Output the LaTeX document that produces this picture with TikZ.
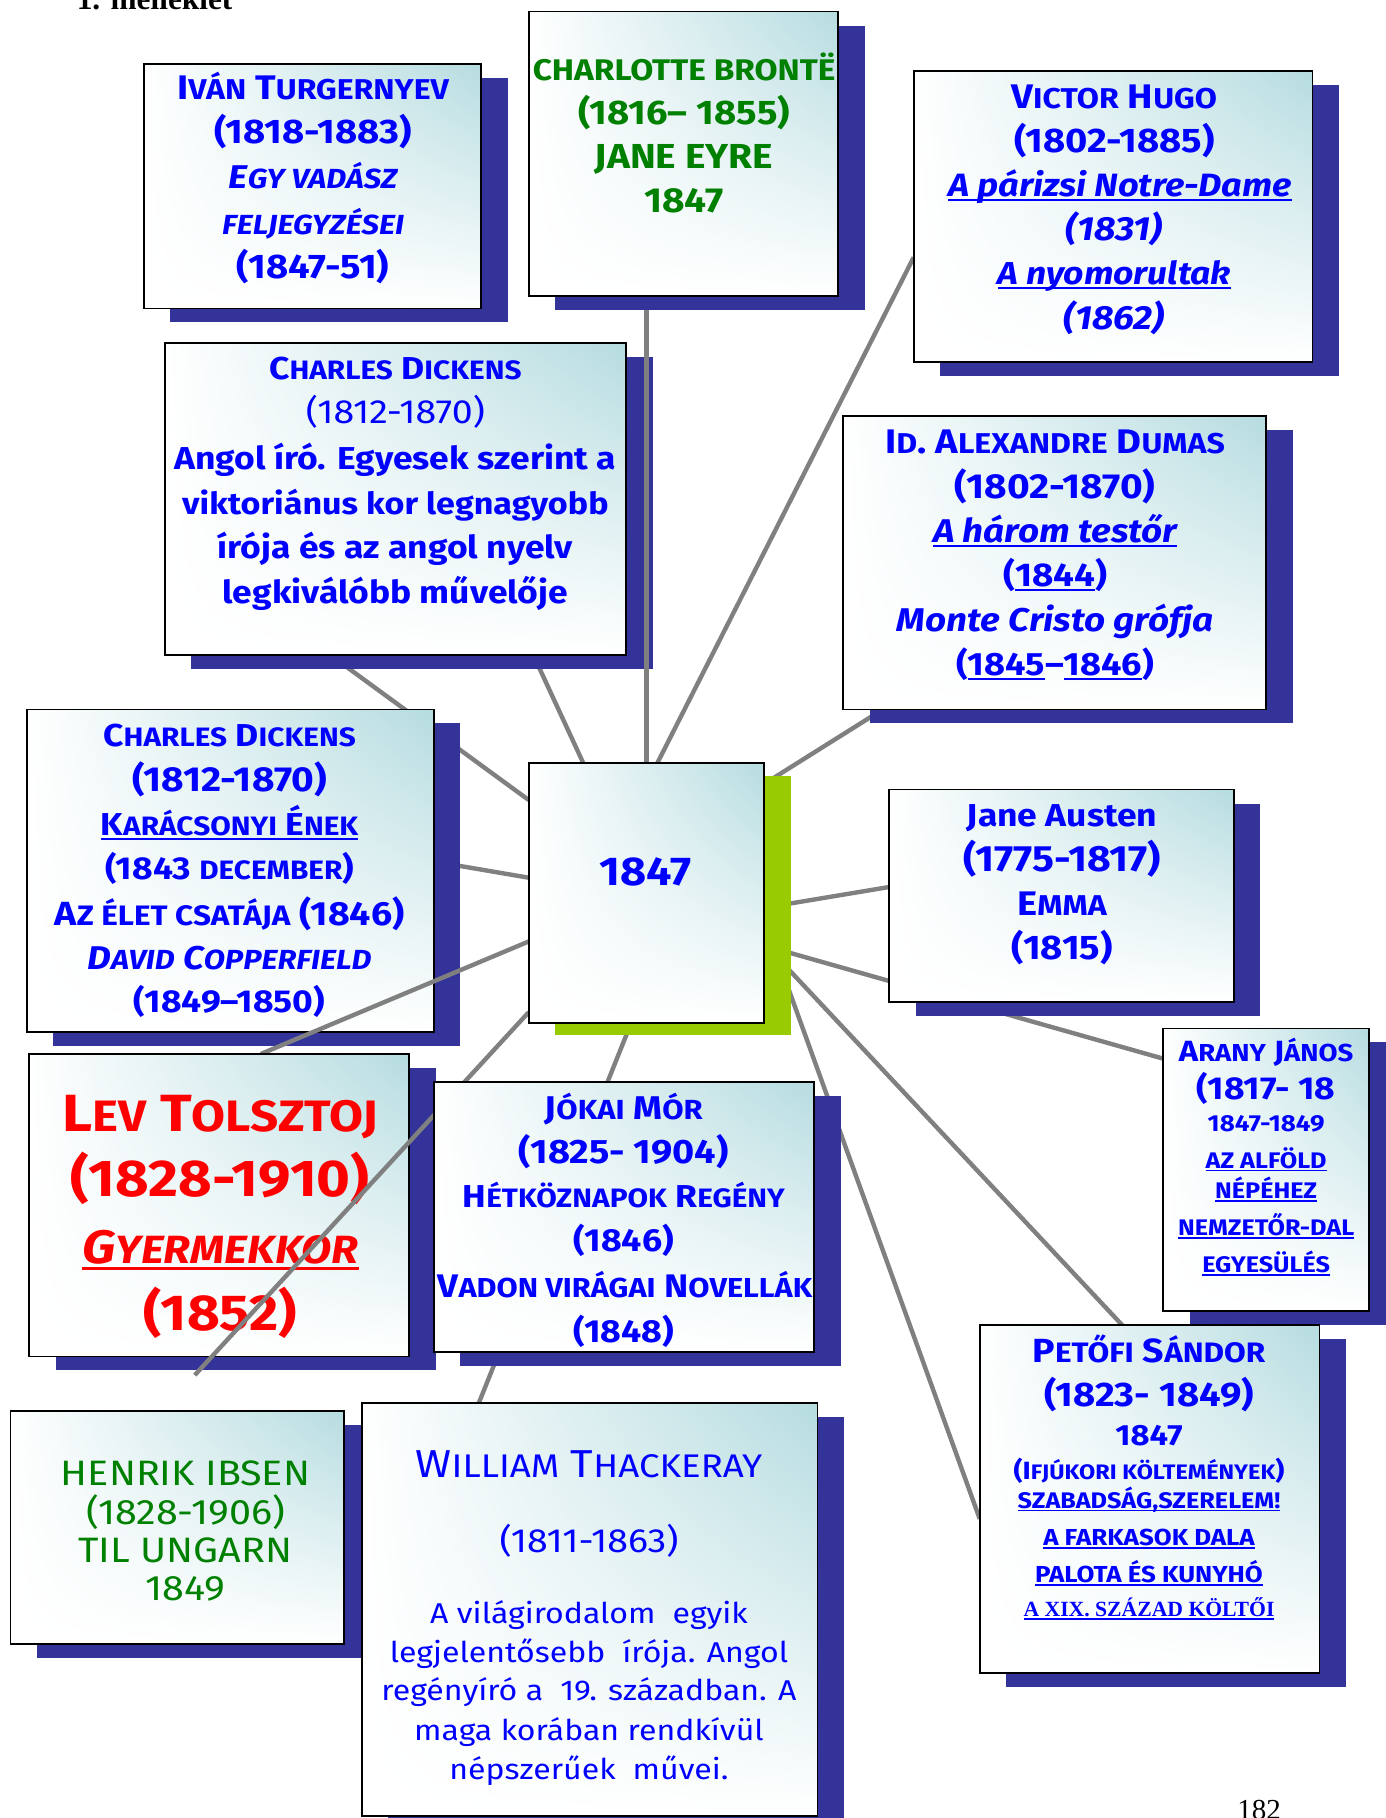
\documentclass[tikz,border=0pt]{standalone}
\usepackage{fontspec}
\setmainfont{Fira Sans}[FakeStretch=1.12]
\newfontfamily\serifbf{Liberation Serif}
\usetikzlibrary{shadings}
\definecolor{sb}{RGB}{51,51,153}
\definecolor{gr}{RGB}{153,204,0}
\definecolor{tealc}{RGB}{182,220,224}
\definecolor{cgray}{RGB}{128,128,128}
\definecolor{tblue}{RGB}{0,0,255}
\definecolor{tgreen}{RGB}{0,128,0}
\definecolor{tred}{RGB}{255,0,0}
\makeatletter
\newcommand\sm[1]{{\fontsize{\fpeval{0.84*\f@size}}{0}\selectfont #1}}
\makeatother
\newcommand\uln[1]{\setbox0\hbox{#1}\leavevmode\rlap{\rule[-0.14em]{\wd0}{0.07em}}\box0}
\newcommand\fs[1]{\fontsize{\fpeval{1.05*#1}}{\fpeval{1.05*#1}}\selectfont}
\newcount\tlcount
% \tl[options]{size}{x}{y}{text}
\newcommand\tl[5][]{\global\advance\tlcount by 1\relax
  \node[tl,font=\fs{#2}\bfseries,#1] (tl\the\tlcount) at ({#3},{#4+0.27*#2}) {#5};}
\newcommand\bx[6]{\fill[#6] ({#2+23},{#3+12}) rectangle ({#4+23},{#5+12});
  \node[box,minimum width={(#4-#2)*1pt},minimum height={(#5-#3)*1pt}] (#1) at ({(#2+#4)/2},{(#3+#5)/2}) {};}
\pgfdeclarelayer{Lback}
\pgfdeclarelayer{L1}
\pgfdeclarelayer{L2}
\pgfdeclarelayer{L3}
\pgfdeclarelayer{L4}
\pgfdeclarelayer{L5}
\pgfdeclarelayer{L6}
\pgfsetlayers{Lback,L1,L2,L3,L4,L5,L6,main}
\tikzset{
  box/.style={draw=black,line width=1.5pt,inner sep=0pt,outer sep=0pt,
    upper right=tealc,upper left=white,lower left=white,lower right=white},
  tl/.style={anchor=mid,inner sep=0pt,text=tblue},
  conn/.style={draw=cgray,line width=3.8pt}
}
\begin{document}
\begin{tikzpicture}[x=1pt,y=-1pt]
\useasboundingbox (0,0) rectangle (1195,1568);
\node[anchor=base west,inner sep=0pt,font=\serifbf\bfseries\fontsize{27}{27}\selectfont] (hdr) at (66,8.6) {1. melléklet};
\node[anchor=base west,inner sep=0pt,font=\serifbf\fontsize{25}{25}\selectfont] (pg) at (1067,1569) {182};

\begin{pgfonlayer}{L1}
% Turgenyev
\bx{turg}{124}{55}{415}{266}{sb}
\tl{28}{270}{76}{I\sm{VÁN} T\sm{URGERNYEV}}
\tl{28}{270}{114}{(1818-1883)}
\tl{27}{270}{153}{\itshape E\sm{GY VADÁSZ}}
\tl{27}{270}{192}{\itshape\sm{FELJEGYZÉSEI}}
\tl{28}{270}{230}{(1847-51)}
% Hugo
\bx{hugo}{788}{61}{1132}{312}{sb}
\tl{28}{961}{83}{V\sm{ICTOR} H\sm{UGO}}
\tl{28}{961}{121}{(1802-1885)}
\tl{26.5}{966}{160}{\itshape\uln{A párizsi Notre-Dame}}
\tl{27.5}{961}{197}{\itshape (1831)}
\tl{26}{961}{236}{\itshape\uln{A nyomorultak}}
\tl{27.5}{961}{274}{\itshape (1862)}
% Dickens 1
\bx{dick1}{142}{296}{540}{565}{sb}
\tl{26}{341}{318}{C\sm{HARLES} D\sm{ICKENS}}
\tl{27.5}{341}{355}{\mdseries (1812-1870)}
\tl{26}{341}{395}{Angol író. Egyesek szerint a}
\tl{25}{341}{434}{viktoriánus kor legnagyobb}
\tl{26}{341}{472}{írója és az angol nyelv}
\tl{26}{341}{511}{legkiválóbb művelője}
% Dumas
\bx{dumas}{727}{359}{1092}{612}{sb}
\tl{28}{910}{381}{I\sm{D}. A\sm{LEXANDRE} D\sm{UMAS}}
\tl{28.5}{910}{420}{(1802-1870)}
\tl{27}{910}{458}{\itshape\uln{A három testőr}}
\tl{27}{910}{496}{(\uln{1844})}
\tl{27}{910}{535}{\itshape Monte Cristo grófja}
\tl{26.5}{910}{573}{(\uln{1845}–\uln{1846})}
% Austen
\bx{austen}{767}{681}{1064}{864}{sb}
\tl{26}{916}{703}{Jane Austen}
\tl{30}{916}{741}{(1775-1817)}
\tl{28}{916}{779}{E\sm{MMA}}
\tl{28}{916}{817}{(1815)}
% Arany
\bx{arany}{1003}{887}{1181}{1131}{sb}
\tl{24}{1092}{906}{A\sm{RANY} J\sm{ÁNOS}}
\tl{26}{1092}{939}{(1817- 18}
\tl{19}{1092}{968}{1847-1849}
\tl{18.5}{1092}{1000}{\uln{AZ ALFÖLD}}
\tl{18.5}{1092}{1026}{\uln{NÉPÉHEZ}}
\tl{18.5}{1092}{1058}{\uln{NEMZETŐR-DAL}}
\tl{18.5}{1092}{1090}{\uln{EGYESÜLÉS}}
% Petofi
\bx{petofi}{845}{1143}{1138}{1443}{sb}
\tl{27.5}{991}{1165}{P\sm{ETŐFI} S\sm{ÁNDOR}}
\tl{28}{991}{1203}{(1823- 1849)}
\tl{24}{991}{1238}{1847}
\tl{20.5}{991}{1268}{(I\sm{FJÚKORI KÖLTEMÉNYEK})}
\tl{18.5}{991}{1293}{\uln{SZABADSÁG,SZERELEM!}}
\tl{19}{991}{1325}{\uln{A FARKASOK DALA}}
\tl{19}{991}{1357}{\uln{PALOTA ÉS KUNYHÓ}}
\tl[font=\serifbf\bfseries\fs{17.8}]{17.8}{991}{1387}{\uln{A XIX. SZÁZAD KÖLTŐI}}
% Ibsen
\bx{ibsen}{9}{1217}{297}{1418}{sb}
\tl[text=tgreen]{29}{160}{1271}{\mdseries HENRIK IBSEN}
\tl[text=tgreen]{29}{160}{1304}{\mdseries (1828-1906)}
\tl[text=tgreen]{29}{160}{1337}{\mdseries TIL UNGARN}
\tl[text=tgreen]{29}{160}{1370}{\mdseries 1849}
% Thackeray
\bx{thack}{312}{1210}{705}{1566}{sb}
\tl{32}{508}{1263}{\mdseries W\sm{ILLIAM} T\sm{HACKERAY}}
\tl{27.5}{508}{1329}{\mdseries (1811-1863)}
\tl{23.5}{508}{1391}{\mdseries A világirodalom~ egyik}
\tl{23.5}{508}{1425}{\mdseries legjelentősebb~ írója. Angol}
\tl{23.5}{508}{1458}{\mdseries regényíró a~ 19. században. A}
\tl{23.5}{508}{1492}{\mdseries maga korában rendkívül}
\tl{23.5}{508}{1526}{\mdseries népszerűek~ művei.}
\end{pgfonlayer}

\begin{pgfonlayer}{L3}
% Bronte
\bx{bronte}{456}{10}{723}{255}{sb}
\tl[text=tgreen]{24.5}{590}{60}{CHARLOTTE BRONTË}
\tl[text=tgreen]{28}{590}{97}{(1816– 1855)}
\tl[text=tgreen]{28.5}{590}{135}{JANE EYRE}
\tl[text=tgreen]{28.5}{590}{173}{1847}
% Dickens 2
\bx{dick2}{23}{612}{374}{890}{sb}
\tl{26}{198}{634}{C\sm{HARLES} D\sm{ICKENS}}
\tl{28.5}{198}{672}{(1812-1870)}
\tl{26}{198}{711}{\uln{K\sm{ARÁCSONYI} É\sm{NEK}}}
\tl{26}{198}{749}{(1843 \sm{DECEMBER})}
\tl{27.5}{198}{788}{A\sm{Z ÉLET CSATÁJA} (1846)}
\tl{27}{198}{826}{\itshape D\sm{AVID} C\sm{OPPERFIELD}}
\tl{26}{198}{864}{(1849–1850)}
\end{pgfonlayer}

\begin{pgfonlayer}{L5}
% Tolsztoj
\bx{tol}{25}{909}{353}{1170}{sb}
\tl[text=tred]{43}{190}{962}{L\sm{EV} T\sm{OLSZTOJ}}
\tl[text=tred]{42.5}{190}{1018}{(1828-1910)}
\tl[text=tred]{38.5}{190}{1077}{\itshape\uln{G\sm{YERMEKKOR}}}
\tl[text=tred]{41.5}{190}{1134}{(1852)}
\end{pgfonlayer}

% Jokai
\bx{jokai}{374}{933}{702}{1166}{sb}
\tl{27}{538}{956}{J\sm{ÓKAI} M\sm{ÓR}}
\tl{27.8}{538}{993}{(1825- 1904)}
\tl{26}{538}{1032}{H\sm{ÉTKÖZNAPOK} R\sm{EGÉNY}}
\tl{26.2}{538}{1070}{(1846)}
\tl{26.8}{539}{1109}{V\sm{ADON VIRÁGAI} N\sm{OVELLÁK}}
\tl{26.2}{538}{1148}{(1848)}

% Center
\fill[gr] (479,669) rectangle (682,893);
\node[box,minimum width=203pt,minimum height=224pt] (ctr) at (557.5,770) {};
\tl{33}{557}{752}{1847}

% connectors
\begin{pgfonlayer}{Lback}
\draw[conn] ([shift={(47,0)}]ctr.north west) -- ([shift={(318,0)}]dick1.south west);
\draw[conn] ([shift={(111,0)}]ctr.north west) -- ([shift={(0,161)}]hugo.north west);
\draw[conn] ([shift={(1,17.5)}]ctr.north east) -- ([shift={(31,2)}]dumas.south west);
\draw[conn] ([shift={(143,0)}]dick1.south west) -- ([shift={(0,32)}]ctr.north west);
\draw[conn] ([shift={(0,131)}]dick2.north east) -- ([shift={(0,99)}]ctr.north west);
\draw[conn] ([shift={(-13,0)}]ctr.south) -- ([shift={(101,0)}]thack.north west);
\draw[conn] ([shift={(6,124)}]ctr.north east) -- ([shift={(0,84)}]austen.north west);
\draw[conn] ([shift={(6,159.2)}]ctr.north east) -- ([shift={(0,26)}]arany.north west);
\draw[conn] ([shift={(6,161.9)}]ctr.north east) -- ([shift={(123,0)}]petofi.north west);
\draw[conn] ([shift={(15,178)}]ctr.north east) -- ([shift={(0,167)}]petofi.north west);
\end{pgfonlayer}
\begin{pgfonlayer}{L2}
\draw[conn] (ctr.north) -- (ctr.north |- bronte.south);
\end{pgfonlayer}
\begin{pgfonlayer}{L4}
\draw[conn] ([shift={(0,154)}]ctr.north west) -- ([shift={(200,0)}]tol.north west);
\end{pgfonlayer}
\begin{pgfonlayer}{L6}
\draw[conn] ([shift={(0,215)}]ctr.north west) -- ([shift={(143,16)}]tol.south west);
\end{pgfonlayer}
\end{tikzpicture}
\end{document}
